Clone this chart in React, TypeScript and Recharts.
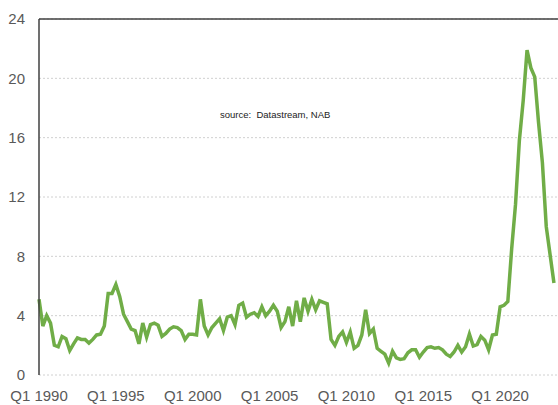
import { LineChart, Line, XAxis, YAxis, CartesianGrid, ReferenceLine } from 'recharts';

// quarterly values, Q1 1990 onwards
const values = [
  5.1, 3.3, 4.0, 3.5, 2.0, 1.9, 2.6, 2.45, 1.65, 2.1, 2.5, 2.4, 2.4, 2.15, 2.4, 2.7, 2.75, 3.3, 5.5, 5.5,
  6.1, 5.3, 4.1, 3.6, 3.1, 3.0, 2.1, 3.5, 2.55, 3.4, 3.5, 3.35, 2.6, 2.8, 3.1, 3.25, 3.2, 3.0, 2.4, 2.75,
  2.75, 2.7, 5.1, 3.3, 2.7, 3.2, 3.5, 3.8, 3.0, 3.9, 4.0, 3.4, 4.7, 4.85, 3.9, 4.1, 4.2, 3.95, 4.6, 4.0,
  4.3, 4.7, 4.3, 3.2, 3.6, 4.6, 3.3, 5.0, 3.6, 5.2, 4.3, 5.1, 4.4, 5.0, 4.9, 4.8, 2.4, 2.0, 2.6, 2.9,
  2.2, 2.9, 1.8, 2.0, 2.7, 4.4, 2.8, 3.1, 1.8, 1.6, 1.4, 0.8, 1.6, 1.15, 1.05, 1.1, 1.5, 1.7, 1.7, 1.2,
  1.55, 1.85, 1.9, 1.8, 1.85, 1.7, 1.4, 1.25, 1.55, 2.0, 1.55, 1.9, 2.75, 1.95, 2.05, 2.6, 2.35, 1.7, 2.7, 2.75,
  4.6, 4.7, 4.95, 8.5, 11.5, 15.8, 18.5, 21.9, 20.7, 20.1, 17.0, 14.3, 10.0, 8.1, 6.2,
];

const tickQuarters = [0, 20, 40, 60, 80, 100, 120];
const tickLabels = ['Q1 1990', 'Q1 1995', 'Q1 2000', 'Q1 2005', 'Q1 2010', 'Q1 2015', 'Q1 2020'];
const yTicks = [0, 4, 8, 12, 16, 20, 24];

const data = values.map((v, i) => ({ q: i, v }));

const tickStyle = { fill: '#595959', fontSize: 15, fontFamily: 'Liberation Sans, Arial, sans-serif' };

export default function App() {
  return (
    <div
      style={{
        position: 'fixed',
        left: 0,
        top: 0,
        width: 558,
        height: 405,
        overflow: 'hidden',
        background: '#fff',
      }}
    >
      <LineChart width={600} height={405} data={data} margin={{ top: 19, right: 23, left: 0, bottom: 0 }}>
        <CartesianGrid vertical={false} stroke="#d0d0d0" strokeDasharray="2 2" />
        <XAxis
          dataKey="q"
          type="number"
          domain={[0, 140]}
          ticks={tickQuarters}
          tickFormatter={(v: number) => tickLabels[tickQuarters.indexOf(v)] ?? ''}
          axisLine={false}
          tickLine={false}
          tickMargin={9}
          height={30}
          interval={0}
          tick={tickStyle}
        />
        <YAxis
          domain={[0, 24]}
          ticks={yTicks}
          width={39}
          axisLine={{ stroke: '#404040', strokeWidth: 1.5 }}
          tickLine={false}
          tickMargin={8}
          tick={tickStyle}
          interval={0}
        />
        <ReferenceLine y={24} stroke="#404040" strokeWidth={1.5} />
        <Line
          dataKey="v"
          type="linear"
          stroke="#70ad47"
          strokeWidth={3.5}
          dot={false}
          isAnimationActive={false}
        />
      </LineChart>
      <div
        style={{
          position: 'absolute',
          left: 220,
          top: 109,
          fontSize: 9.5,
          fontFamily: 'Liberation Sans, Arial, sans-serif',
          color: '#222',
          whiteSpace: 'pre',
        }}
      >
        {'source:  Datastream, NAB'}
      </div>
    </div>
  );
}
